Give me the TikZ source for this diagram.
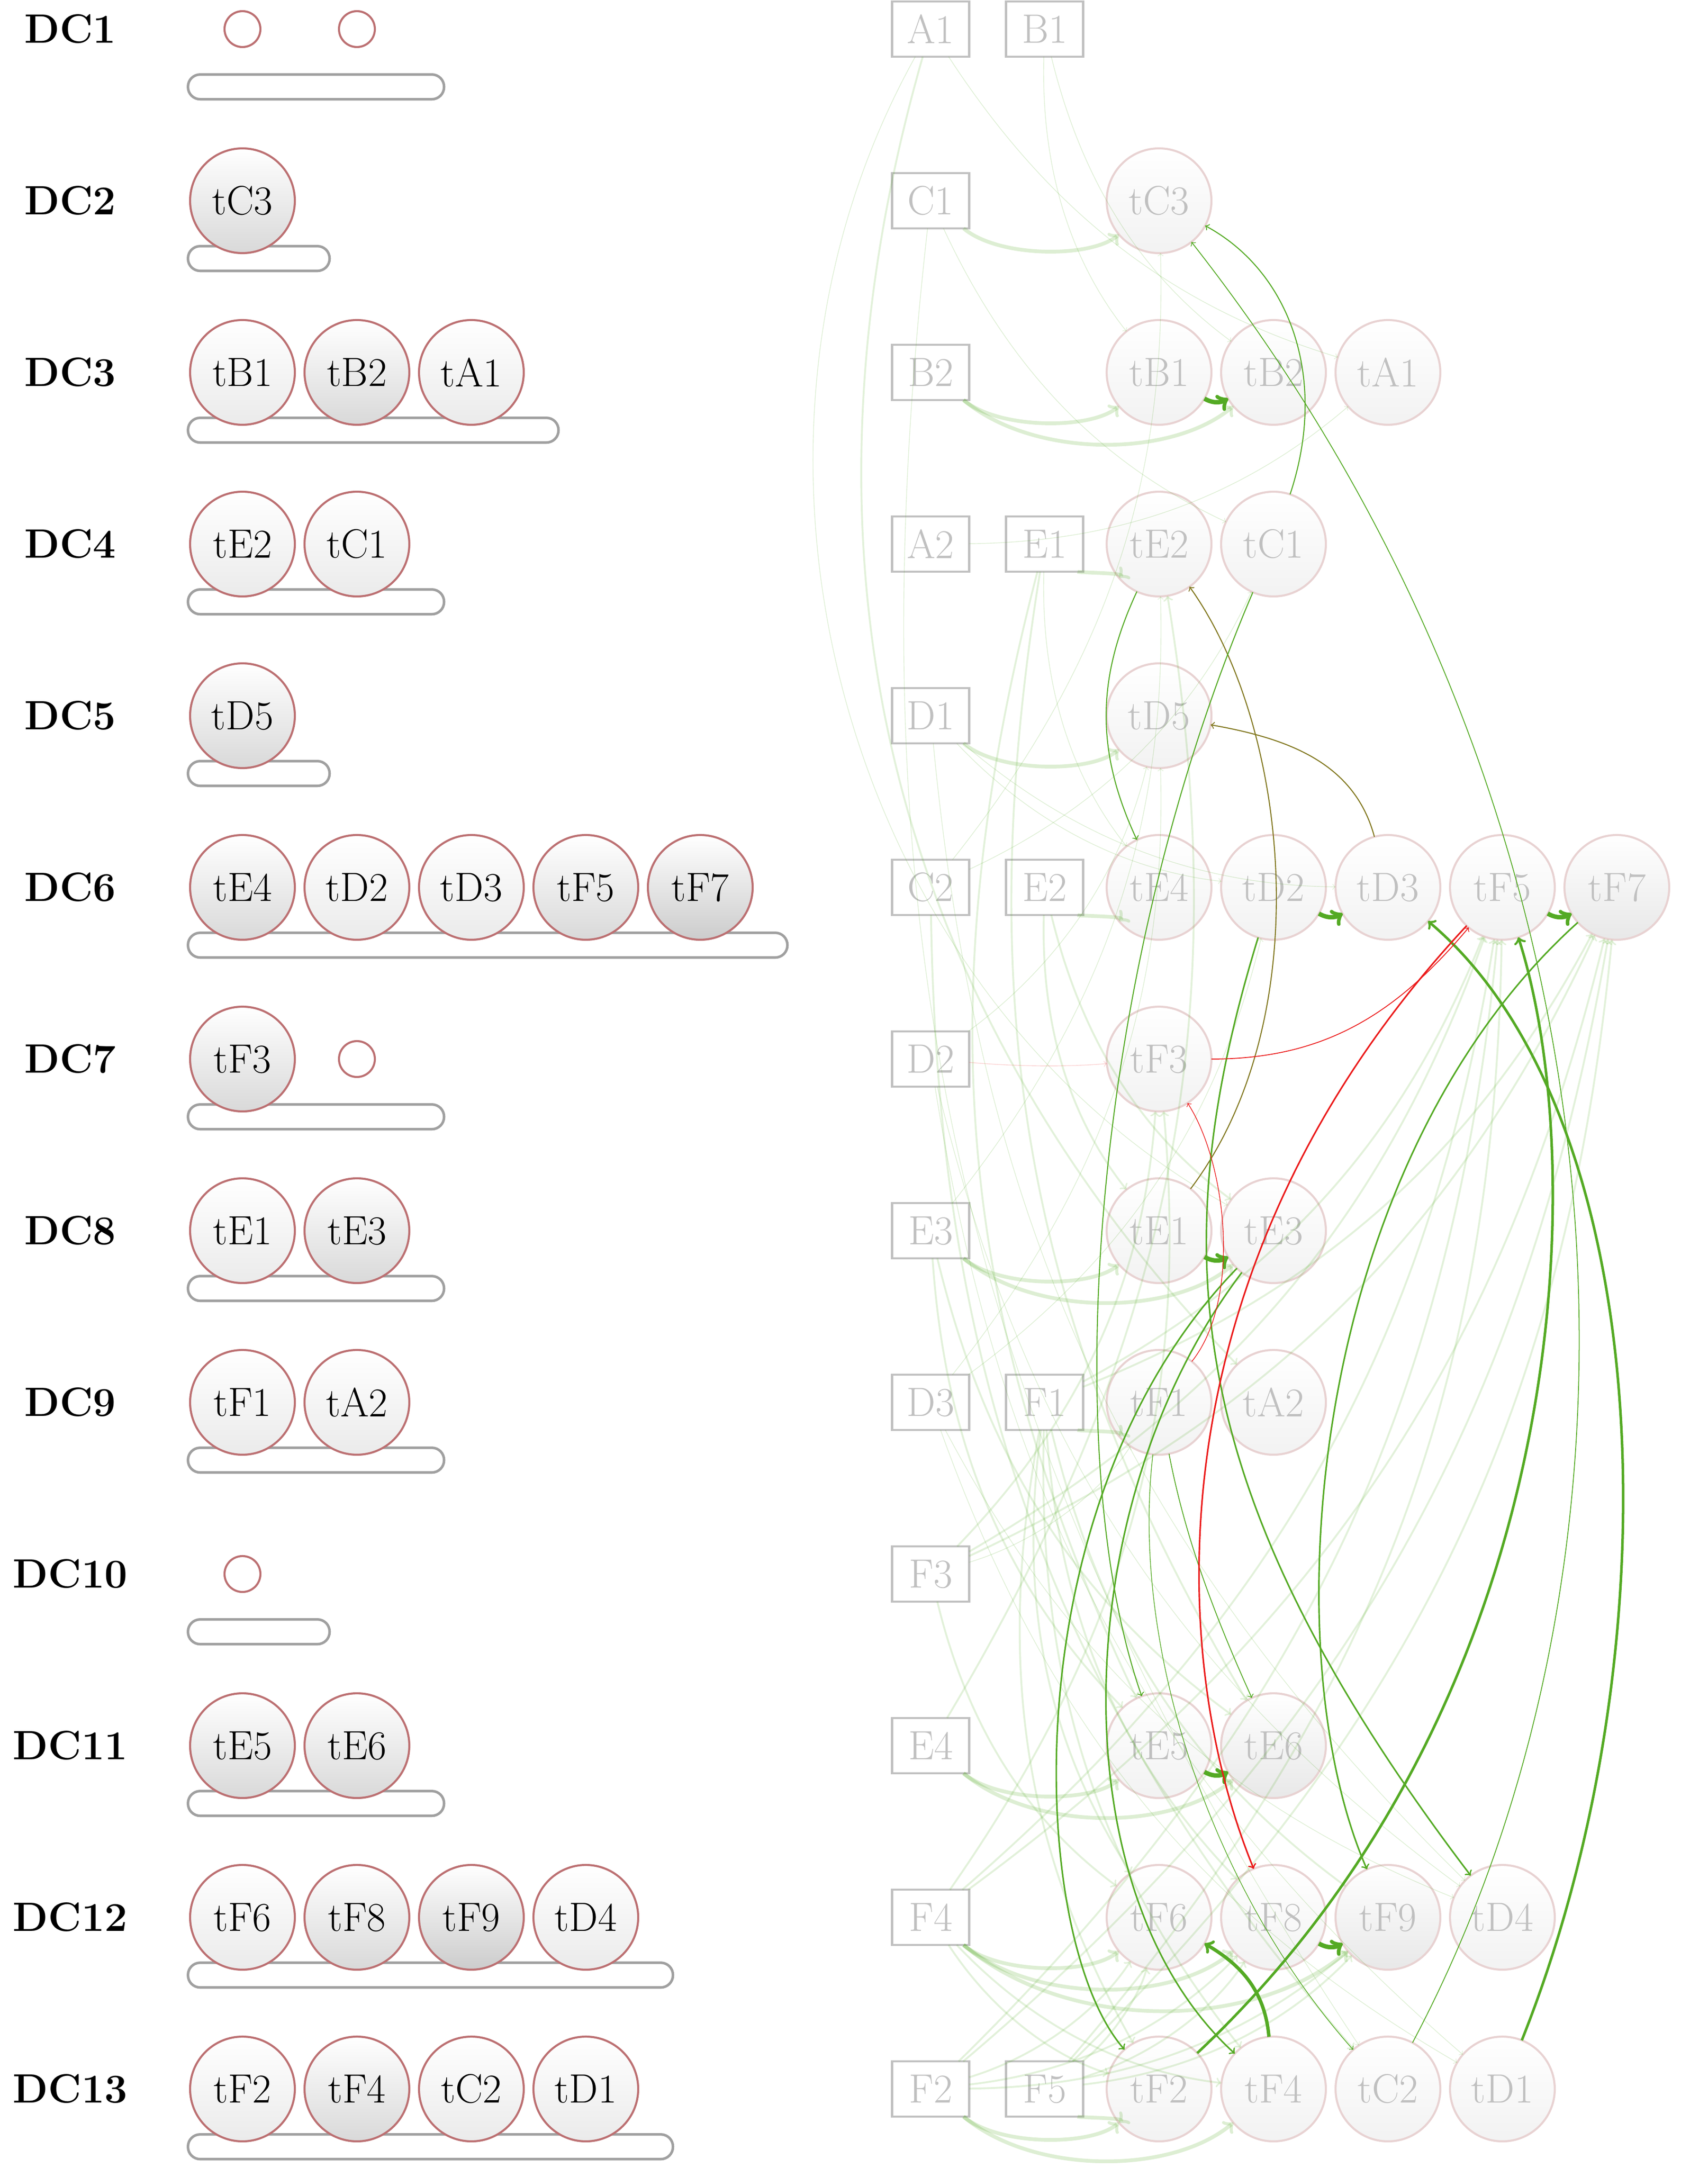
\documentclass[tikz,border=0pt]{standalone}
\usepackage{xcolor}
\usepackage{tikz}
\usetikzlibrary{shapes.geometric,arrows,positioning,calc}

\definecolor{taskborder}{RGB}{188,112,114}
\definecolor{fadeborder}{RGB}{232,210,210}
\definecolor{fadetext}{RGB}{192,192,192}
\definecolor{boxgray}{RGB}{192,192,192}
\definecolor{bargray}{RGB}{160,160,160}
\definecolor{depgreen}{RGB}{84,170,36}
\definecolor{depolive}{RGB}{128,118,28}
\definecolor{depred}{RGB}{235,25,25}

\begin{document}
\begin{tikzpicture}[
    node distance=0.2cm,
    dclabel/.style={font=\fontsize{24}{28}\selectfont\bfseries},
    task/.style={circle, draw=taskborder, line width=1.2pt, minimum size=2.16cm, inner sep=0pt, outer sep=0pt, top color=white, bottom color=gray!16, font=\fontsize{24}{28}\selectfont},
    taskmid/.style={task, bottom color=gray!30},
    taskdark/.style={task, bottom color=gray!40},
    slot/.style={circle, draw=taskborder, line width=1.2pt, minimum size=0.74cm, inner sep=0pt},
    bar/.style={rectangle, rounded corners=0.25cm, draw=bargray, line width=1.5pt, minimum height=0.51cm, minimum width=#1, inner sep=0pt, anchor=north west},
    databox/.style={rectangle, draw=boxgray, line width=1.2pt, text=fadetext, minimum width=1.59cm, minimum height=1.14cm, inner sep=0pt, outer sep=0pt, font=\fontsize{24}{28}\selectfont},
    ftask/.style={circle, draw=fadeborder, line width=1.2pt, text=fadetext, minimum size=2.16cm, inner sep=0pt, outer sep=0pt, top color=white, bottom color=gray!10, font=\fontsize{24}{28}\selectfont},
    fdark/.style={ftask, bottom color=gray!18},
    bendr/.style={to path={.. controls ($(\tikztostart)!0.39!-#1:(\tikztotarget)$) and ($(\tikztotarget)!0.39!#1:(\tikztostart)$) .. (\tikztotarget) \tikztonodes}},
    own/.style={->, line width=2.2pt, depgreen, opacity=0.2, bendr=40},
    feed/.style={->, line width=1.1pt, depgreen, opacity=0.17, bendr=20},
    hint/.style={->, line width=0.4pt, depgreen, opacity=0.2, bendr=20},
    chainarrow/.style={->, line width=2.6pt, depgreen},
    dep/.style={->, line width=0.6pt, depgreen},
    depthick/.style={->, line width=1.5pt, depgreen},
    oliveline/.style={->, line width=0.6pt, depolive},
    late/.style={->, line width=0.5pt, depred}
]
\useasboundingbox (0,0) rectangle (35.21,-44.71);

% Left column - data centre bars
\node[bar=5.28cm] (bar1) at (3.85,-1.51) {};
\node[bar=2.92cm] (bar2) at (3.85,-5.05) {};
\node[bar=7.64cm] (bar3) at (3.85,-8.59) {};
\node[bar=5.28cm] (bar4) at (3.85,-12.13) {};
\node[bar=2.92cm] (bar5) at (3.85,-15.67) {};
\node[bar=12.36cm] (bar6) at (3.85,-19.21) {};
\node[bar=5.28cm] (bar7) at (3.85,-22.75) {};
\node[bar=5.28cm] (bar8) at (3.85,-26.29) {};
\node[bar=5.28cm] (bar9) at (3.85,-29.83) {};
\node[bar=2.92cm] (bar10) at (3.85,-33.37) {};
\node[bar=5.28cm] (bar11) at (3.85,-36.91) {};
\node[bar=10.00cm] (bar12) at (3.85,-40.45) {};
\node[bar=10.00cm] (bar13) at (3.85,-43.99) {};

% Left column - labels
\node[dclabel] (dc1) at (1.45,-0.60) {DC1};
\node[dclabel] (dc2) at (1.45,-4.14) {DC2};
\node[dclabel] (dc3) at (1.45,-7.68) {DC3};
\node[dclabel] (dc4) at (1.45,-11.22) {DC4};
\node[dclabel] (dc5) at (1.45,-14.76) {DC5};
\node[dclabel] (dc6) at (1.45,-18.30) {DC6};
\node[dclabel] (dc7) at (1.45,-21.84) {DC7};
\node[dclabel] (dc8) at (1.45,-25.38) {DC8};
\node[dclabel] (dc9) at (1.45,-28.92) {DC9};
\node[dclabel] (dc10) at (1.45,-32.46) {DC10};
\node[dclabel] (dc11) at (1.45,-36.00) {DC11};
\node[dclabel] (dc12) at (1.45,-39.54) {DC12};
\node[dclabel] (dc13) at (1.45,-43.08) {DC13};

% Left column - placed tasks
\node[slot] (s1a) at (5.00,-0.60) {};
\node[slot] (s1b) at (7.36,-0.60) {};
\node[taskmid] (ltC3) at (5.00,-4.14) {tC3};
\node[task] (ltB1) at (5.00,-7.68) {tB1};
\node[taskmid, right=of ltB1] (ltB2) {tB2};
\node[task, right=of ltB2] (ltA1) {tA1};
\node[task] (ltE2) at (5.00,-11.22) {tE2};
\node[task, right=of ltE2] (ltC1) {tC1};
\node[taskmid] (ltD5) at (5.00,-14.76) {tD5};
\node[taskmid] (ltE4) at (5.00,-18.30) {tE4};
\node[task, right=of ltE4] (ltD2) {tD2};
\node[task, right=of ltD2] (ltD3) {tD3};
\node[taskmid, right=of ltD3] (ltF5) {tF5};
\node[taskdark, right=of ltF5] (ltF7) {tF7};
\node[taskmid] (ltF3) at (5.00,-21.84) {tF3};
\node[slot] (s7b) at (7.36,-21.84) {};
\node[task] (ltE1) at (5.00,-25.38) {tE1};
\node[taskmid, right=of ltE1] (ltE3) {tE3};
\node[task] (ltF1) at (5.00,-28.92) {tF1};
\node[task, right=of ltF1] (ltA2) {tA2};
\node[slot] (s10a) at (5.00,-32.46) {};
\node[taskmid] (ltE5) at (5.00,-36.00) {tE5};
\node[taskmid, right=of ltE5] (ltE6) {tE6};
\node[task] (ltF6) at (5.00,-39.54) {tF6};
\node[taskmid, right=of ltF6] (ltF8) {tF8};
\node[taskdark, right=of ltF8] (ltF9) {tF9};
\node[task, right=of ltF9] (ltD4) {tD4};
\node[task] (ltF2) at (5.00,-43.08) {tF2};
\node[taskmid, right=of ltF2] (ltF4) {tF4};
\node[task, right=of ltF4] (ltC2) {tC2};
\node[task, right=of ltC2] (ltD1) {tD1};

% Right column - data items
\node[databox] (A1) at (19.19,-0.60) {A1};
\node[databox, right=0.76cm of A1] (B1) {B1};
\node[databox] (C1) at (19.19,-4.14) {C1};
\node[databox] (B2) at (19.19,-7.68) {B2};
\node[databox] (A2) at (19.19,-11.22) {A2};
\node[databox, right=0.76cm of A2] (E1) {E1};
\node[databox] (D1) at (19.19,-14.76) {D1};
\node[databox] (C2) at (19.19,-18.30) {C2};
\node[databox, right=0.76cm of C2] (E2) {E2};
\node[databox] (D2) at (19.19,-21.84) {D2};
\node[databox] (E3) at (19.19,-25.38) {E3};
\node[databox] (D3) at (19.19,-28.92) {D3};
\node[databox, right=0.76cm of D3] (F1) {F1};
\node[databox] (F3) at (19.19,-32.46) {F3};
\node[databox] (E4) at (19.19,-36.00) {E4};
\node[databox] (F4) at (19.19,-39.54) {F4};
\node[databox] (F2) at (19.19,-43.08) {F2};
\node[databox, right=0.76cm of F2] (F5) {F5};

% Right column - task graph
\node[ftask] (tC3) at (23.90,-4.14) {tC3};
\node[ftask] (tB1) at (23.90,-7.68) {tB1};
\node[ftask, right=of tB1] (tB2) {tB2};
\node[ftask, right=of tB2] (tA1) {tA1};
\node[ftask] (tE2) at (23.90,-11.22) {tE2};
\node[ftask, right=of tE2] (tC1) {tC1};
\node[ftask] (tD5) at (23.90,-14.76) {tD5};
\node[ftask] (tE4) at (23.90,-18.30) {tE4};
\node[ftask, right=of tE4] (tD2) {tD2};
\node[ftask, right=of tD2] (tD3) {tD3};
\node[ftask, right=of tD3] (tF5) {tF5};
\node[fdark, right=of tF5] (tF7) {tF7};
\node[ftask] (tF3) at (23.90,-21.84) {tF3};
\node[ftask] (tE1) at (23.90,-25.38) {tE1};
\node[ftask, right=of tE1] (tE3) {tE3};
\node[ftask] (tF1) at (23.90,-28.92) {tF1};
\node[ftask, right=of tF1] (tA2) {tA2};
\node[ftask] (tE5) at (23.90,-36.00) {tE5};
\node[fdark, right=of tE5] (tE6) {tE6};
\node[ftask] (tF6) at (23.90,-39.54) {tF6};
\node[ftask, right=of tF6] (tF8) {tF8};
\node[fdark, right=of tF8] (tF9) {tF9};
\node[ftask, right=of tF9] (tD4) {tD4};
\node[ftask] (tF2) at (23.90,-43.08) {tF2};
\node[ftask, right=of tF2] (tF4) {tF4};
\node[ftask, right=of tF4] (tC2) {tC2};
\node[ftask, right=of tC2] (tD1) {tD1};

% Data to owning task
\draw[own] (C1) to (tC3);
\draw[own] (B2) to (tB1);
\draw[own] (B2) to (tB2);
\draw[own] (E1) to (tE2);
\draw[own] (D1) to (tD5);
\draw[own] (E2) to (tE4);
\draw[own] (E3) to (tE1);
\draw[own] (E3) to (tE3);
\draw[own] (F1) to (tF1);
\draw[own] (E4) to (tE5);
\draw[own] (E4) to (tE6);
\draw[own] (F4) to (tF6);
\draw[own] (F4) to (tF8);
\draw[own] (F4) to (tF9);
\draw[own] (F2) to (tF2);
\draw[own] (F2) to (tF4);
\draw[own] (F5) to (tF2);

% Data read by other tasks
\draw[feed] (F1) to (tF2);
\draw[feed] (F1) to (tF4);
\draw[feed] (F1) to (tF6);
\draw[feed] (F1) to (tF8);
\draw[feed] (F1) to (tF9);
\draw[feed] (F1) to (tF5);
\draw[feed] (F1) to (tF7);
\draw[feed] (F4) to (tF5);
\draw[feed] (F4) to (tF7);
\draw[feed] (F4) to (tF2);
\draw[feed] (F4) to (tF4);
\draw[feed] (F4) to (tF3);
\draw[feed] (F2) to (tF5);
\draw[feed] (F2) to (tF7);
\draw[feed] (F2) to (tF6);
\draw[feed] (F2) to (tF8);
\draw[feed] (F2) to (tF9);
\draw[feed] (F5) to (tF5);
\draw[feed] (F5) to (tF7);
\draw[feed] (F5) to (tF6);
\draw[feed] (F5) to (tF8);
\draw[feed] (F5) to (tF9);
\draw[feed] (F3) to (tF5);
\draw[feed] (F3) to (tF7);
\draw[feed] (F3) to (tF6);
\draw[feed] (F3) to (tF3);
\draw[feed] (E3) to (tE5);
\draw[feed] (E3) to (tE6);
\draw[feed] (E1) to (tE5);
\draw[feed] (E1) to (tE6);
\draw[feed] (E2) to (tE1);
\draw[feed] (E2) to (tE3);
\draw[feed] (E4) to (tE2);
\draw[feed] (C2) to (tC2);
\draw[feed, bendr=30] (A1) to (tA2);
\draw[hint] (A1) to (tA1);
\draw[hint, bendr=45] (A1) to (tE3);
\draw[hint] (A2) to (tA1);
\draw[hint] (B1) to (tB1);
\draw[hint] (B1) to (tB2);
\draw[hint] (C1) to (tC1);
\draw[hint] (C1) to (tC2);
\draw[hint] (C2) to (tC1);
\draw[hint] (C2) to (tC3);
\draw[hint] (D1) to (tD2);
\draw[hint] (D1) to (tD3);
\draw[hint] (D1) to (tD4);
\draw[hint] (D2) to (tD1);
\draw[hint] (D2) to (tD4);
\draw[hint] (D2) to (tD5);
\draw[hint] (D3) to (tD1);
\draw[hint] (D3) to (tD4);
\draw[hint] (D3) to (tD2);
\draw[hint] (D3) to (tD5);
\draw[hint] (E1) to (tE4);
\draw[hint] (E3) to (tE2);
\draw[hint] (F3) to (tF1);
\draw[hint, depred, bendr=5] (D2) to (tF3);

% Task to task dependencies
\draw[chainarrow] (tB1) to[bend right=30] (tB2);
\draw[chainarrow] (tD2) to[bend right=30] (tD3);
\draw[chainarrow] (tF5) to[bend right=30] (tF7);
\draw[chainarrow] (tE1) to[bend right=30] (tE3);
\draw[chainarrow] (tE5) to[bend right=30] (tE6);
\draw[chainarrow] (tF8) to[bend right=30] (tF9);
\draw[chainarrow, line width=2pt] (tF4) to[out=95, in=-30] (tF6);
\draw[dep] (tC1) .. controls (27.4,-7.8) and (26.6,-5.6) .. (tC3);
\draw[dep, line width=0.5pt] (tC2) .. controls (34.5,-32) and (34,-17) .. (tC3);
\draw[dep] (tE2) to[out=-115, in=115] (tE4);
\draw[oliveline] (tD3) to[out=105, in=-10] (tD5);
\draw[oliveline] (tE1) .. controls (27.2,-21) and (26.6,-15) .. (tE2);
\draw[dep] (tC1) .. controls (22.5,-20) and (21.8,-30) .. (tE5);
\draw[dep, line width=0.9pt] (tD2) .. controls (23.9,-26) and (24.5,-31) .. (tD4);
\draw[dep, line width=0.9pt] (tF7) .. controls (27,-24) and (26.2,-34) .. (tF9);
\draw[depthick] (tF2) .. controls (32.5,-35) and (32.8,-24) .. (tF5);
\draw[depthick] (tD1) .. controls (34.6,-34) and (34.2,-23) .. (tD3);
\draw[dep, line width=0.9pt] (tE3) .. controls (20.8,-31) and (21.2,-40) .. (tF2);
\draw[dep, line width=0.9pt] (tE3) .. controls (22,-31) and (21.8,-39) .. (tF4);
\draw[dep, line width=0.5pt] (tF1) .. controls (24.4,-31.5) and (24.9,-33) .. (tE6);
\draw[dep, line width=0.4pt] (tF1) .. controls (23.3,-34) and (25,-39) .. (tC2);
\draw[late, line width=0.9pt] (tF5) .. controls (23.8,-26) and (24.0,-34) .. (tF8);
\draw[late] (tF3) to[out=0, in=-130] (tF5);
\draw[late, line width=0.4pt] (tF1) .. controls (25.6,-26.8) and (25.3,-24) .. (tF3);

\end{tikzpicture}
\end{document}
